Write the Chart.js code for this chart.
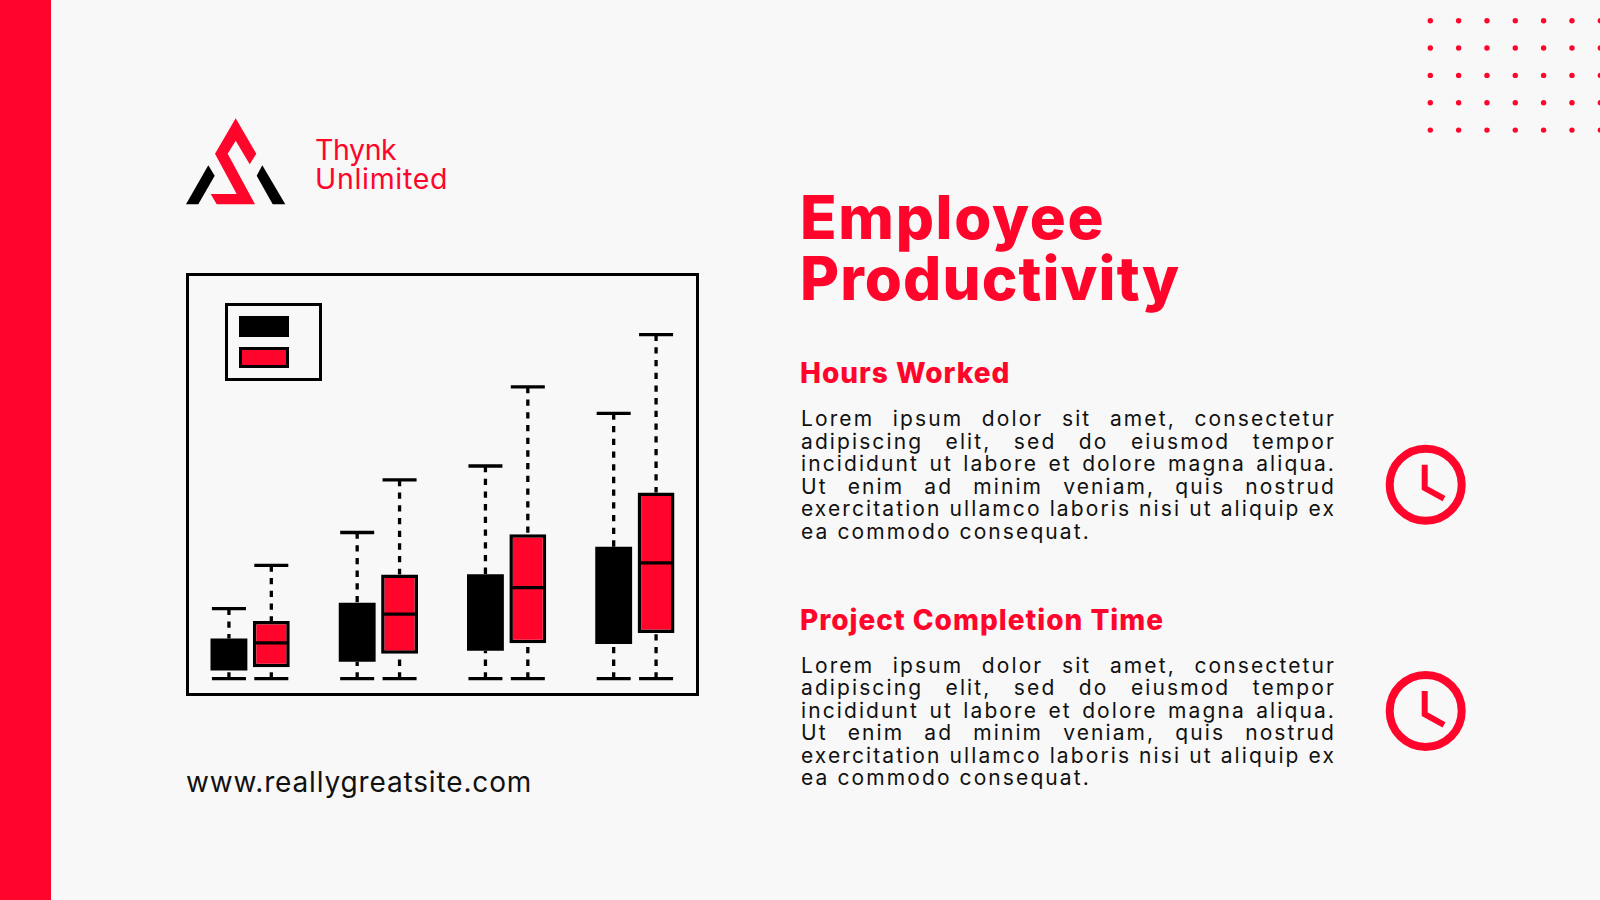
<!DOCTYPE html>
<html>
<head>
<meta charset="utf-8">
<title>Employee Productivity</title>
<script src="https://cdn.jsdelivr.net/npm/chart.js@4"></script>
<style>
  html, body { margin: 0; padding: 0; }
  body { width: 1600px; height: 900px; background: #f8f8f8; overflow: hidden; position: relative; font-family: Inter, sans-serif; }
  #sidebar { position: absolute; left: 0; top: 0; width: 51px; height: 900px; background: #ff052b; }
  svg { position: absolute; left: 0; top: 0; }
  .txt { position: absolute; white-space: nowrap; }
  .brand { left: 315px; color: #ff052b; font-size: 28.5px; line-height: 30px; }
  #site { left: 186px; top: 762px; color: #111; font-size: 28px; line-height: 40px; letter-spacing: 0.85px; }
  .title { left: 800px; color: #ff052b; font-size: 60px; font-weight: 800; line-height: 61px; }
  .head { left: 800px; color: #ff052b; font-size: 28px; font-weight: 800; line-height: 34px; letter-spacing: 1px; }
  .body { position: absolute; left: 801px; width: 535px; color: #111; font-size: 21px; line-height: 22.5px; letter-spacing: 2.1px; }
  .body div { text-align: justify; text-align-last: justify; white-space: nowrap; }
  .body div:last-child { text-align-last: left; }
  #frame { position: absolute; left: 186px; top: 273px; width: 513px; height: 423px; box-sizing: border-box; border: 3px solid #000; }
  #chartWrap { position: absolute; left: 186px; top: 274px; width: 513px; height: 421px; }
  #legendBox { position: absolute; left: 225px; top: 303px; width: 97px; height: 78px; box-sizing: border-box; border: 3px solid #000; }
  .swatch { position: absolute; left: 239px; width: 50px; height: 21px; box-sizing: border-box; border: 3px solid #000; }
</style>
</head>
<body>
<div id="sidebar"></div>

<svg width="1600" height="900">
  <g id="dots" fill="#ff052b"></g>
  <polygon fill="#ff052b" points="235.7,118.3 256.3,153.7 249.7,164.3 235.7,140.7 227.7,153.7 255,204.3 216.7,204.3 210.7,194 236.7,194 215,153.7"/>
  <polygon fill="#000" points="208.3,165.3 214.7,175.7 198.3,204.3 186,204.3"/>
  <polygon fill="#000" points="262.3,165.3 285.3,204.3 272.7,204.3 256.7,175.7"/>
  <g fill="none" stroke="#ff052b">
    <circle cx="1425.7" cy="484.7" r="36" stroke-width="8"/>
    <polyline points="1424.7,464.7 1424.7,488 1444,498.7" stroke-width="6"/>
    <circle cx="1425.7" cy="710.9" r="36" stroke-width="8"/>
    <polyline points="1424.7,690.9 1424.7,714.2 1444,724.9" stroke-width="6"/>
  </g>
</svg>

<div class="txt brand" style="top:135px;letter-spacing:-0.4px">Thynk</div>
<div class="txt brand" style="top:164px;letter-spacing:0.7px">Unlimited</div>
<div class="txt title" style="top:187px;letter-spacing:1.7px">Employee</div>
<div class="txt title" style="top:248px;letter-spacing:1.1px">Productivity</div>

<div class="txt head" style="top:356px">Hours Worked</div>
<div class="body" style="top:408px">
  <div>Lorem ipsum dolor sit amet, consectetur</div>
  <div>adipiscing elit, sed do eiusmod tempor</div>
  <div>incididunt ut labore et dolore magna aliqua.</div>
  <div>Ut enim ad minim veniam, quis nostrud</div>
  <div>exercitation ullamco laboris nisi ut aliquip ex</div>
  <div>ea commodo consequat.</div>
</div>

<div class="txt head" style="top:602.5px">Project Completion Time</div>
<div class="body" style="top:654.5px">
  <div>Lorem ipsum dolor sit amet, consectetur</div>
  <div>adipiscing elit, sed do eiusmod tempor</div>
  <div>incididunt ut labore et dolore magna aliqua.</div>
  <div>Ut enim ad minim veniam, quis nostrud</div>
  <div>exercitation ullamco laboris nisi ut aliquip ex</div>
  <div>ea commodo consequat.</div>
</div>

<div class="txt" id="site">www.reallygreatsite.com</div>

<div id="chartWrap"><canvas id="grafico" width="513" height="421"></canvas></div>
<div id="frame"></div>
<div id="legendBox"></div>
<div class="swatch" id="swatchA" style="top:316px"></div>
<div class="swatch" id="swatchB" style="top:347px"></div>

<script>
const categories = ['Group 1', 'Group 2', 'Group 3', 'Group 4'];

// axis hidden so the scale is just 0-100
const hoursLow = [3.9, 3.9, 3.9, 3.9];
const hoursQ1 = [5.8, 7.9, 10.5, 12.1];
const hoursMedian = [9.5, 15, 19.5, 24];
const hoursQ3 = [13.4, 21.9, 28.7, 35.2];
const hoursHigh = [20.5, 38.6, 54.4, 66.9];

const projectLow = [3.9, 3.9, 3.9, 3.9];
const projectQ1 = [6.6, 9.8, 12.3, 14.7];
const projectMedian = [12.4, 19.2, 25.5, 31.4];
const projectQ3 = [17.6, 28.6, 38.2, 48.1];
const projectHigh = [30.8, 51.1, 73.2, 85.6];

const VERMELHO = '#ff052b';
const PRETO = '#000000';

const series = [
    { low: hoursLow, median: hoursMedian, high: hoursHigh, q1: hoursQ1, q3: hoursQ3 },
    { low: projectLow, median: projectMedian, high: projectHigh, q1: projectQ1, q3: projectQ3 }
];

// whiskers and caps go under the boxes, medians on top
const whiskers = {
    id: 'whiskers',
    beforeDatasetsDraw(chart) {
        const c = chart.ctx;
        const y = chart.scales.y;
        c.save();
        c.strokeStyle = PRETO;
        c.lineWidth = 3.3;
        series.forEach((s, i) => {
            chart.getDatasetMeta(i).data.forEach((bar, j) => {
                c.setLineDash([6.3, 6.4]);
                c.beginPath();
                c.moveTo(bar.x, y.getPixelForValue(s.high[j]));
                c.lineTo(bar.x, y.getPixelForValue(s.q3[j]));
                c.stroke();
                c.beginPath();
                c.moveTo(bar.x, y.getPixelForValue(s.low[j]));
                c.lineTo(bar.x, y.getPixelForValue(s.q1[j]));
                c.stroke();
                c.setLineDash([]);
                c.beginPath();
                [s.high[j], s.low[j]].forEach(v => {
                    c.moveTo(bar.x - 17, y.getPixelForValue(v));
                    c.lineTo(bar.x + 17, y.getPixelForValue(v));
                });
                c.stroke();
            });
        });
        c.restore();
    },
    afterDatasetsDraw(chart) {
        const c = chart.ctx;
        const y = chart.scales.y;
        c.save();
        c.strokeStyle = PRETO;
        c.lineWidth = 3.3;
        series.forEach((s, i) => {
            chart.getDatasetMeta(i).data.forEach((bar, j) => {
                const meio = bar.width / 2 - 1;
                c.beginPath();
                c.moveTo(bar.x - meio, y.getPixelForValue(s.median[j]));
                c.lineTo(bar.x + meio, y.getPixelForValue(s.median[j]));
                c.stroke();
            });
        });
        c.restore();
    }
};

const chart = new Chart(document.getElementById('grafico').getContext('2d'), {
    type: 'bar',
    data: {
        labels: categories,
        datasets: [{
            label: 'Hours Worked',
            data: hoursQ1.map((v, i) => [v, hoursQ3[i]]),
            backgroundColor: PRETO,
            borderWidth: 0
        }, {
            label: 'Project Completion Time',
            data: projectQ1.map((v, i) => [v, projectQ3[i]]),
            backgroundColor: VERMELHO,
            borderColor: PRETO,
            borderWidth: 3.5,
            borderSkipped: false
        }]
    },
    options: {
        responsive: false,
        animation: false,
        categoryPercentage: 0.661,
        barPercentage: 0.87,
        layout: { padding: 0 },
        plugins: { legend: { display: false }, tooltip: { enabled: false } },
        scales: {
            x: { display: false },
            y: { display: false, min: 0, max: 100 }
        }
    },
    plugins: [whiskers]
});

document.getElementById('swatchA').style.background = chart.data.datasets[0].backgroundColor;
document.getElementById('swatchB').style.background = chart.data.datasets[1].backgroundColor;

// decorative dot grid, top right
const dots = document.getElementById('dots');
for (let r = 0; r < 5; r++) {
    for (let k = 0; k < 7; k++) {
        const p = document.createElementNS('http://www.w3.org/2000/svg', 'circle');
        p.setAttribute('cx', 1430.3 + k * 28.33);
        p.setAttribute('cy', 20.7 + r * 27.35);
        p.setAttribute('r', 2.7);
        dots.appendChild(p);
    }
}
</script>
</body>
</html>
